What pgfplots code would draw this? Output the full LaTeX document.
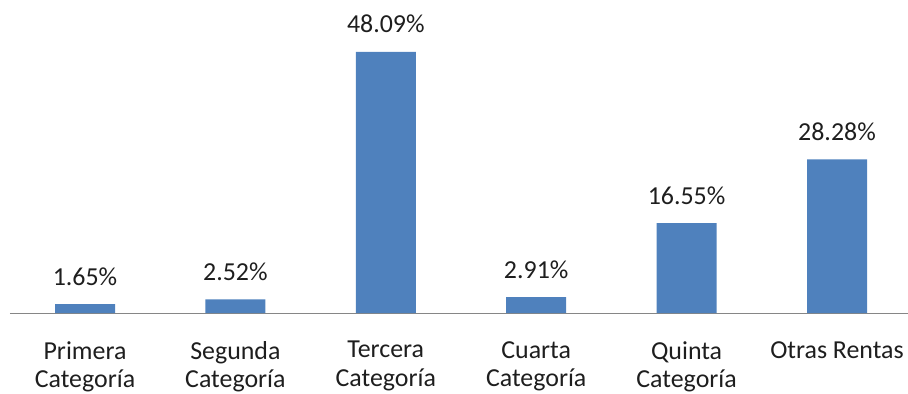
\documentclass[border=0pt]{standalone}
\usepackage{fontspec}
\setmainfont{Carlito}
\usepackage{pgfplots}
\pgfplotsset{compat=1.18}
\definecolor{barblue}{HTML}{4F81BD}
\definecolor{axgray}{RGB}{134,134,134}
\definecolor{txt}{RGB}{30,30,30}
\begin{document}
\begin{tikzpicture}
\begin{axis}[
  scale only axis,
  width=902.4bp, height=313bp,
  xmin=-0.5, xmax=5.5,
  ymin=0, ymax=57.64,
  axis y line=none,
  axis x line*=bottom,
  x axis line style={axgray, line width=1bp},
  xtick=data,
  major tick length=0pt,
  xticklabels={{Primera\\Categoría},{Segunda\\Categoría},{Tercera\\Categoría},{Cuarta\\Categoría},{Quinta\\Categoría},{Otras Rentas}},
  xticklabel style={anchor=north, inner sep=0pt, yshift=-28bp, align=center, text=txt,
    font=\fontsize{26}{28.5}\selectfont},
  point meta=explicit symbolic,
  nodes near coords,
  every node near coord/.append style={anchor=base, yshift=19bp, inner sep=0pt, text=txt,
    font=\fontsize{26}{29}\selectfont},
  clip=false,
]
\addplot[ybar, bar width=60bp, fill=barblue, draw=none] coordinates {
  (0,1.65) [1.65\%]
  (1,2.52) [2.52\%]
  (2,48.09) [48.09\%]
  (3,2.91) [2.91\%]
  (4,16.55) [16.55\%]
  (5,28.28) [28.28\%]
};
\coordinate (o) at (rel axis cs:0,0);
\end{axis}
\pgfresetboundingbox
\path (o) ++(-9.8bp,-81bp) rectangle ++(908bp,394bp);
\end{tikzpicture}
\end{document}
